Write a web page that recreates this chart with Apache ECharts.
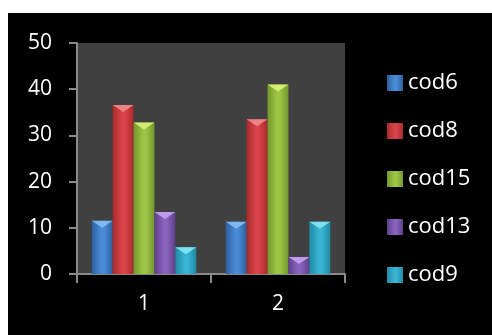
<!DOCTYPE html>
<html>
<head>
<meta charset="utf-8">
<script src="https://cdn.jsdelivr.net/npm/echarts@6/dist/echarts.min.js"></script>
<style>
  html, body { margin: 0; padding: 0; background: #ffffff; }
  #chart { position: absolute; left: 8px; top: 13px; width: 484px; height: 322px; }
</style>
</head>
<body>
<div id="chart"></div>
<script>
// Categories and series values
const categories = ['1', '2'];
const seriesNames = ['cod6', 'cod8', 'cod15', 'cod13', 'cod9'];
const cod6 = [11.5, 11.3];
const cod8 = [36.6, 33.5];
const cod15 = [32.8, 41.0];
const cod13 = [13.4, 3.7];
const cod9 = [5.8, 11.3];
const yTicks = [0, 10, 20, 30, 40, 50];

const values = [cod6, cod8, cod15, cod13, cod9];

// Bevelled bar look: dark edges, lighter middle, pale triangle cap
const palette = [
  { edge: '#2c5f9e', mid: '#4a8bd6', cap: '#86bdf5' },
  { edge: '#a82a2c', mid: '#d9434a', cap: '#f08a8a' },
  { edge: '#74972c', mid: '#9cc545', cap: '#d9ef7a' },
  { edge: '#5e3f8a', mid: '#8a63bd', cap: '#c4a2f0' },
  { edge: '#1f8aa6', mid: '#38b4d2', cap: '#86e6f5' }
];

function barGradient(p) {
  return new echarts.graphic.LinearGradient(0, 0, 1, 0, [
    { offset: 0, color: p.edge },
    { offset: 0.45, color: p.mid },
    { offset: 0.6, color: p.mid },
    { offset: 1, color: p.edge }
  ]);
}

const BAR_GAP = '0%';
const CAT_GAP = '22%';

const barSeries = seriesNames.map((name, i) => ({
  name: name,
  type: 'bar',
  data: values[i],
  barGap: BAR_GAP,
  barCategoryGap: CAT_GAP,
  itemStyle: { color: barGradient(palette[i]) },
  emphasis: { disabled: true },
  z: 2
}));

const capSeries = seriesNames.map((name, i) => ({
  name: name,
  type: 'pictorialBar',
  data: values[i],
  barGap: BAR_GAP,
  barCategoryGap: CAT_GAP,
  symbol: 'triangle',
  symbolRotate: 180,
  symbolSize: ['100%', 7],
  symbolPosition: 'end',
  itemStyle: { color: palette[i].cap, opacity: 0.9 },
  emphasis: { disabled: true },
  silent: true,
  z: 3
}));

const chart = echarts.init(document.getElementById('chart'));
chart.setOption({
  backgroundColor: '#000000',
  animation: false,
  grid: {
    left: 69, top: 30, width: 268, height: 231,
    show: true, backgroundColor: '#404040', borderWidth: 0
  },
  legend: {
    data: seriesNames,
    orient: 'vertical',
    left: 379,
    top: 58,
    padding: 0,
    itemWidth: 16,
    itemHeight: 16,
    itemGap: 24,
    icon: 'rect',
    textStyle: { color: '#ffffff', fontSize: 22, fontFamily: 'Open Sans', lineHeight: 24 },
    selectedMode: false
  },
  xAxis: {
    type: 'category',
    data: categories,
    boundaryGap: true,
    axisLine: { show: true, lineStyle: { color: '#8a8a8a', width: 2 } },
    axisTick: { show: true, length: 9, lineStyle: { color: '#8a8a8a', width: 2 } },
    axisLabel: { color: '#ffffff', fontSize: 21, fontFamily: 'Open Sans', margin: 20 },
    splitLine: { show: false }
  },
  yAxis: {
    type: 'value',
    min: yTicks[0],
    max: yTicks[yTicks.length - 1],
    interval: 10,
    axisLine: { show: true, lineStyle: { color: '#8a8a8a', width: 2 } },
    axisTick: { show: true, length: 8, lineStyle: { color: '#8a8a8a', width: 2 } },
    axisLabel: { color: '#ffffff', fontSize: 21, fontFamily: 'Open Sans', margin: 25 },
    splitLine: { show: false }
  },
  series: barSeries.concat(capSeries)
});
</script>
</body>
</html>
